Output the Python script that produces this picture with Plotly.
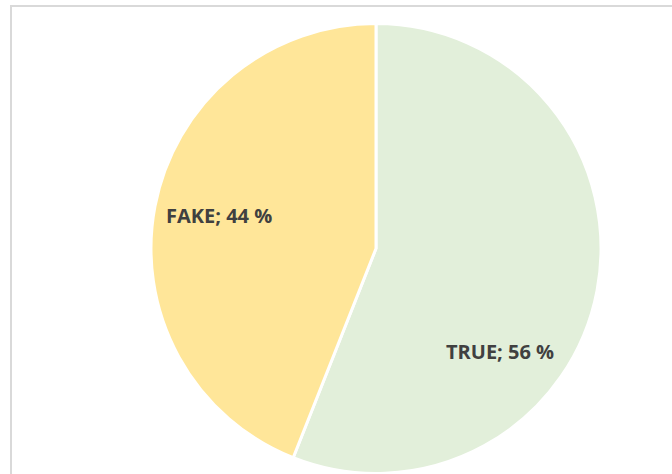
import plotly.graph_objects as go

# Share of items by verdict
categories = ["TRUE", "FAKE"]
shares = [56, 44]
slice_colors = ["#e2efda", "#ffe699"]

W, H = 672, 474
cx, cy, r = 376, 248.5, 225

fig = go.Figure(
    go.Pie(
        labels=categories,
        values=shares,
        sort=False,
        direction="clockwise",
        rotation=0,
        marker=dict(colors=slice_colors, line=dict(color="#ffffff", width=3)),
        textinfo="none",
        hoverinfo="label+percent",
        domain=dict(
            x=[(cx - r) / W, (cx + r) / W],
            y=[1 - (cy + r) / H, 1 - (cy - r) / H],
        ),
        showlegend=False,
    )
)

# Data labels "CATEGORY; NN %"
label_pos = {"FAKE": (219, 215), "TRUE": (500, 351)}
for cat, val in zip(categories, shares):
    px, py = label_pos[cat]
    fig.add_annotation(
        x=px / W, y=1 - py / H, xref="paper", yref="paper",
        text=f"<b>{cat}; {val} %</b>", showarrow=False,
        font=dict(family="'Open Sans', sans-serif", size=20, color="#404040"),
        xanchor="center", yanchor="middle",
    )

# Chart area frame
fig.add_shape(
    type="rect", xref="paper", yref="paper",
    x0=11 / W, x1=1.1, y0=-0.1, y1=1 - 6 / H,
    line=dict(color="#d9d9d9", width=2), fillcolor="rgba(0,0,0,0)", layer="below",
)

fig.update_layout(
    width=W, height=H,
    margin=dict(l=0, r=0, t=0, b=0),
    paper_bgcolor="#ffffff", plot_bgcolor="#ffffff",
)

fig.write_html("out.html")
